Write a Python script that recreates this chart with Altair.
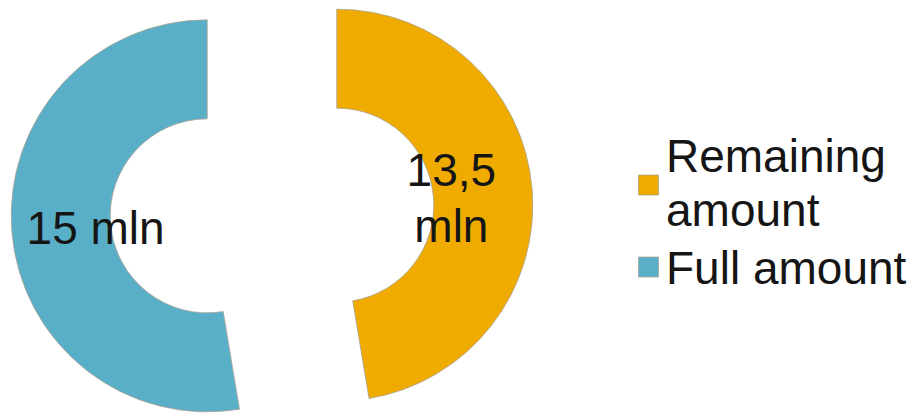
import altair as alt
import pandas as pd

categories = ["Remaining amount", "Full amount"]
values = [13.5, 15.0]
slice_labels = ["13,5\nmln", "15 mln"]
legend_labels = ["Remaining\namount", "Full amount"]
colors = ["#F0AB00", "#5AAFC8"]
order = [0, 1]

df = pd.DataFrame({
    "category": categories,
    "value": values,
    "label": slice_labels,
    "legend": legend_labels,
    "order": order,
})

FONT = "Liberation Sans"
FS = 46
CX, CY = 272, 210.5
EXPLODE = 65
R_OUT, R_IN = 196, 97
EDGE = "#a8a293"
TXT = "#151515"

color = alt.Color("category:N", scale=alt.Scale(domain=categories, range=colors), legend=None)

base = (
    alt.Chart(df)
    .transform_window(cum="sum(value)", sort=[alt.SortField("order")], frame=[None, 0])
    .transform_joinaggregate(total="sum(value)")
    .transform_calculate(t0="(datum.cum - datum.value) / datum.total * 2 * PI")
    .transform_calculate(t1="datum.cum / datum.total * 2 * PI")
    .transform_calculate(mid="(datum.t0 + datum.t1) / 2")
    .transform_calculate(cx=f"{CX} + {EXPLODE} * sin(datum.mid)")
    .transform_calculate(cy=f"{CY} - {EXPLODE} * cos(datum.mid)")
)

arcs = base.mark_arc(
    outerRadius=R_OUT, innerRadius=R_IN, stroke=EDGE, strokeWidth=0.8
).encode(
    x=alt.X("cx:Q", scale=None, axis=None),
    y=alt.Y("cy:Q", scale=None, axis=None),
    theta=alt.Theta("t0:Q", scale=None, stack=None),
    theta2=alt.Theta2("t1"),
    color=color,
)


def label_layer(cat, r, dy):
    return (
        base.transform_filter(alt.datum.category == cat)
        .transform_calculate(lx=f"datum.cx + {r} * sin(datum.mid)")
        .transform_calculate(ly=f"datum.cy - {r} * cos(datum.mid)")
        .mark_text(
            font=FONT, fontSize=FS, lineBreak="\n", lineHeight=56, dy=dy,
            color=TXT, baseline="middle", align="center",
        )
        .encode(
            x=alt.X("lx:Q", scale=None, axis=None),
            y=alt.Y("ly:Q", scale=None, axis=None),
            text="label:N",
        )
    )


lab_full = label_layer("Full amount", 112, 5)
lab_rem = label_layer("Remaining amount", 115, -24)

leg_y = alt.Y(
    "category:N",
    scale=alt.Scale(type="point", domain=categories, range=[185, 267], padding=0),
    axis=None,
)
squares = alt.Chart(df).mark_square(
    size=400, stroke=EDGE, strokeWidth=0.8, opacity=1
).encode(x=alt.value(648.5), y=leg_y, color=color)


def legend_text(cat, dy):
    return (
        alt.Chart(df)
        .transform_filter(alt.datum.category == cat)
        .mark_text(
            align="left", baseline="middle", fontSize=FS, lineBreak="\n", lineHeight=54,
            font=FONT, color=TXT, dy=dy,
        )
        .encode(x=alt.value(666), y=leg_y, text="legend:N")
    )


leg_rem = legend_text("Remaining amount", -27)
leg_full = legend_text("Full amount", 3)

chart = (
    alt.layer(arcs, lab_full, lab_rem, squares, leg_rem, leg_full)
    .resolve_scale(y="independent")
    .properties(width=919, height=413, padding=0, autosize=alt.AutoSizeParams(type="none"), background="white")
    .configure_view(stroke=None)
)

chart.save("out.html", embed_options={"renderer": "svg", "actions": False})
